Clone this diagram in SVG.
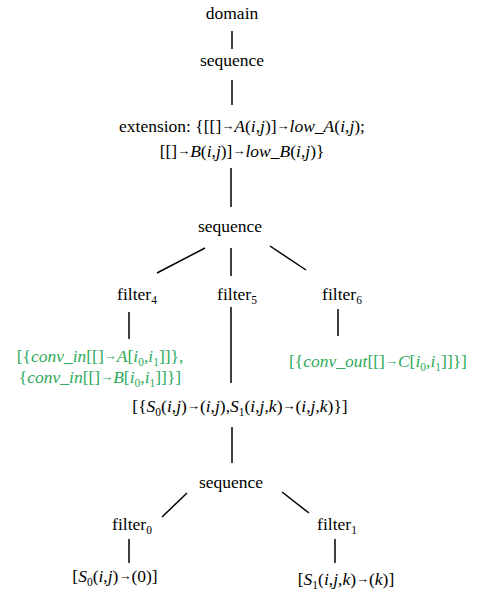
<svg xmlns="http://www.w3.org/2000/svg" width="482" height="594" viewBox="0 0 482 594">
<style>
text{font-family:"Liberation Serif","Times New Roman",serif;font-size:17.5px;fill:#000;text-anchor:middle}
.g{fill:#2eaa5c}
.i{font-style:italic}
.s{font-size:11.5px}
.a{font-size:13px}
line{stroke:#000;stroke-width:1.5}
</style>
<rect width="482" height="594" fill="#fff"/>
<g id="connectors">
<line x1="232" y1="31" x2="232" y2="49"/>
<line x1="232" y1="80" x2="232" y2="105"/>
<line x1="231" y1="168" x2="231" y2="207"/>
<line x1="205" y1="248" x2="157" y2="273"/>
<line x1="231" y1="248" x2="231" y2="276"/>
<line x1="270" y1="246" x2="306" y2="270"/>
<line x1="129" y1="312" x2="129" y2="339"/>
<line x1="231" y1="307" x2="231" y2="383"/>
<line x1="338" y1="309" x2="338" y2="336"/>
<line x1="232" y1="427" x2="232" y2="463"/>
<line x1="187" y1="493" x2="162" y2="517"/>
<line x1="282" y1="492" x2="309" y2="513"/>
<line x1="129" y1="539" x2="129" y2="563"/>
<line x1="335" y1="539" x2="335" y2="563"/>
</g>
<g id="domain"><text x="232" y="19">domain</text></g>
<g id="sequence1"><text x="232" y="66">sequence</text></g>
<g id="extension">
<text x="242" y="132">extension: {[[]<tspan class="a" dy="-2">→</tspan><tspan class="i" dy="2">A</tspan>(<tspan class="i">i</tspan>,<tspan class="i">j</tspan>)]<tspan class="a" dy="-2">→</tspan><tspan class="i" dy="2">low_A</tspan>(<tspan class="i">i</tspan>,<tspan class="i">j</tspan>);</text>
<text x="242" y="157">[[]<tspan class="a" dy="-2">→</tspan><tspan class="i" dy="2">B</tspan>(<tspan class="i">i</tspan>,<tspan class="i">j</tspan>)]<tspan class="a" dy="-2">→</tspan><tspan class="i" dy="2">low_B</tspan>(<tspan class="i">i</tspan>,<tspan class="i">j</tspan>)}</text>
</g>
<g id="sequence2"><text x="230" y="232">sequence</text></g>
<g id="filter4"><text x="137" y="300">filter<tspan class="s" dy="4">4</tspan></text></g>
<g id="filter5"><text x="237" y="300">filter<tspan class="s" dy="4">5</tspan></text></g>
<g id="filter6"><text x="342" y="300">filter<tspan class="s" dy="4">6</tspan></text></g>
<g id="conv_in">
<text class="g" x="100" y="362">[{<tspan class="i">conv_in</tspan>[[]<tspan class="a" dy="-2">→</tspan><tspan class="i" dy="2">A</tspan>[<tspan class="i">i</tspan><tspan class="s" dy="4">0</tspan><tspan dy="-4">,</tspan><tspan class="i">i</tspan><tspan class="s" dy="4">1</tspan><tspan dy="-4">]]},</tspan></text>
<text class="g" x="100" y="383">{<tspan class="i">conv_in</tspan>[[]<tspan class="a" dy="-2">→</tspan><tspan class="i" dy="2">B</tspan>[<tspan class="i">i</tspan><tspan class="s" dy="4">0</tspan><tspan dy="-4">,</tspan><tspan class="i">i</tspan><tspan class="s" dy="4">1</tspan><tspan dy="-4">]]}]</tspan></text>
</g>
<g id="conv_out">
<text class="g" x="378" y="367">[{<tspan class="i">conv_out</tspan>[[]<tspan class="a" dy="-2">→</tspan><tspan class="i" dy="2">C</tspan>[<tspan class="i">i</tspan><tspan class="s" dy="4">0</tspan><tspan dy="-4">,</tspan><tspan class="i">i</tspan><tspan class="s" dy="4">1</tspan><tspan dy="-4">]]}]</tspan></text>
</g>
<g id="schedule">
<text x="240" y="412">[{<tspan class="i">S</tspan><tspan class="s" dy="4">0</tspan><tspan dy="-4">(</tspan><tspan class="i">i</tspan>,<tspan class="i">j</tspan>)<tspan class="a" dy="-2">→</tspan><tspan dy="2">(</tspan><tspan class="i">i</tspan>,<tspan class="i">j</tspan>),<tspan class="i">S</tspan><tspan class="s" dy="4">1</tspan><tspan dy="-4">(</tspan><tspan class="i">i</tspan>,<tspan class="i">j</tspan>,<tspan class="i">k</tspan>)<tspan class="a" dy="-2">→</tspan><tspan dy="2">(</tspan><tspan class="i">i</tspan>,<tspan class="i">j</tspan>,<tspan class="i">k</tspan>)}]</text>
</g>
<g id="sequence3"><text x="231" y="488">sequence</text></g>
<g id="filter0"><text x="132" y="530">filter<tspan class="s" dy="4">0</tspan></text></g>
<g id="filter1"><text x="337" y="530">filter<tspan class="s" dy="4">1</tspan></text></g>
<g id="s0"><text x="115" y="582">[<tspan class="i">S</tspan><tspan class="s" dy="4">0</tspan><tspan dy="-4">(</tspan><tspan class="i">i</tspan>,<tspan class="i">j</tspan>)<tspan class="a" dy="-2">→</tspan><tspan dy="2">(0)]</tspan></text></g>
<g id="s1"><text x="346" y="585">[<tspan class="i">S</tspan><tspan class="s" dy="4">1</tspan><tspan dy="-4">(</tspan><tspan class="i">i</tspan>,<tspan class="i">j</tspan>,<tspan class="i">k</tspan>)<tspan class="a" dy="-2">→</tspan><tspan dy="2">(</tspan><tspan class="i">k</tspan>)]</text></g>
</svg>
